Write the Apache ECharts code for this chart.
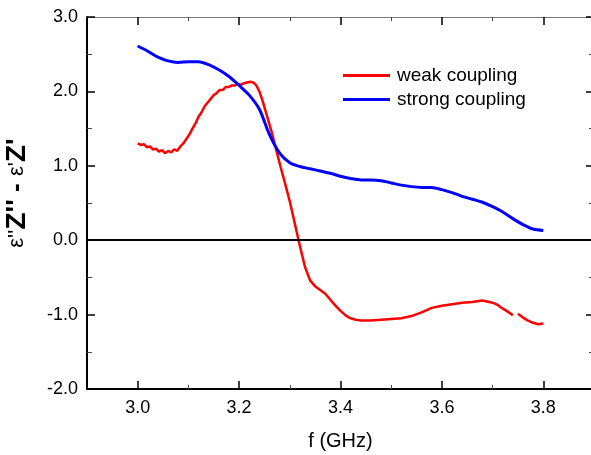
<!DOCTYPE html>
<html>
<head>
<meta charset="utf-8">
<script src="https://cdn.jsdelivr.net/npm/echarts@6/dist/echarts.min.js"></script>
<style>
  html, body { margin: 0; padding: 0; background: #fff; }
  #chart { width: 591px; height: 455px; }
</style>
</head>
<body>
<div id="chart"></div>
<script>
// weak coupling (red)
const weakFreq = [3.000, 3.006, 3.012, 3.018, 3.024, 3.030, 3.036, 3.042, 3.048, 3.054,
  3.060, 3.066, 3.072, 3.078, 3.084, 3.090, 3.096, 3.102, 3.108, 3.114,
  3.120, 3.126, 3.132, 3.138, 3.144, 3.150, 3.156, 3.162, 3.168, 3.174,
  3.180, 3.186, 3.192, 3.198, 3.204, 3.210, 3.216, 3.222, 3.228, 3.234,
  3.240, 3.246, 3.252, 3.258, 3.264, 3.270, 3.276, 3.282, 3.290, 3.300,
  3.310, 3.320, 3.330, 3.340, 3.350, 3.360, 3.370, 3.380, 3.390, 3.400,
  3.410, 3.420, 3.430, 3.440, 3.460, 3.480, 3.500, 3.520, 3.540, 3.560,
  3.580, 3.600, 3.620, 3.640, 3.660, 3.680, 3.700, 3.710, 3.720, 3.730,
  3.740, 3.745, 3.750, 3.760, 3.770, 3.780, 3.790, 3.800];
const weakVal = [1.30, 1.28, 1.29, 1.25, 1.26, 1.22, 1.23, 1.19, 1.21, 1.17,
  1.20, 1.18, 1.22, 1.20, 1.26, 1.30, 1.36, 1.42, 1.50, 1.57,
  1.66, 1.72, 1.80, 1.85, 1.90, 1.95, 1.98, 2.02, 2.02, 2.06,
  2.06, 2.08, 2.08, 2.10, 2.09, 2.11, 2.12, 2.13, 2.12, 2.08,
  2.00, 1.88, 1.74, 1.60, 1.46, 1.30, 1.14, 0.98, 0.78, 0.52,
  0.22, -0.08, -0.36, -0.54, -0.62, -0.67, -0.72, -0.80, -0.88, -0.95,
  -1.01, -1.05, -1.07, -1.08, -1.08, -1.07, -1.06, -1.05, -1.02, -0.97,
  -0.91, -0.88, -0.86, -0.84, -0.83, -0.81, -0.84, -0.87, -0.92, -0.96,
  -1.01, '-', -0.99, -1.04, -1.08, -1.11, -1.13, -1.12];

// strong coupling (blue)
const strongFreq = [3.00, 3.02, 3.04, 3.06, 3.08, 3.10, 3.12, 3.14, 3.16, 3.18,
  3.20, 3.22, 3.24, 3.26, 3.28, 3.30, 3.32, 3.34, 3.36, 3.38,
  3.40, 3.42, 3.44, 3.46, 3.48, 3.50, 3.52, 3.54, 3.56, 3.58,
  3.60, 3.62, 3.64, 3.66, 3.68, 3.70, 3.72, 3.74, 3.76, 3.78, 3.80];
const strongVal = [2.61, 2.54, 2.46, 2.41, 2.39, 2.40, 2.40, 2.36, 2.29, 2.20,
  2.08, 1.95, 1.76, 1.42, 1.17, 1.04, 0.99, 0.96, 0.93, 0.90,
  0.86, 0.83, 0.81, 0.81, 0.80, 0.77, 0.74, 0.72, 0.71, 0.71,
  0.68, 0.64, 0.59, 0.55, 0.51, 0.45, 0.38, 0.29, 0.21, 0.15, 0.13];

const xMajor = [3.0, 3.2, 3.4, 3.6, 3.8];
const xMinor = [3.1, 3.3, 3.5, 3.7];
const yMajor = [-2, -1, 0, 1, 2, 3];

const font = 'Liberation Sans, Arial, sans-serif';
const chart = echarts.init(document.getElementById('chart'));

const zip = (xs, ys) => xs.map((x, i) => [x, ys[i]]);

// x axis: one axis for line + labels + long ticks, one for the short ticks
function xAxisPair(pos, lineColor, lineWidth, withLabels) {
  const common = { type: 'value', min: 2.9, max: 3.9, interval: 0.1, position: pos, splitLine: { show: false } };
  const main = Object.assign({}, common, {
    axisLine: { show: true, onZero: false, lineStyle: { color: lineColor, width: lineWidth } },
    axisTick: { inside: true, length: 8, customValues: xMajor, lineStyle: { color: '#000', width: 1.5 } },
    axisLabel: withLabels
      ? { margin: 10, fontFamily: font, fontSize: 18, color: '#000', customValues: xMajor, formatter: v => v.toFixed(1) }
      : { show: false }
  });
  const minor = Object.assign({}, common, {
    axisLine: { show: false, onZero: false },
    axisTick: { inside: true, length: 4, customValues: xMinor, lineStyle: { color: '#444', width: 1 } },
    axisLabel: { show: false }
  });
  return [main, minor];
}

const bottomAxes = xAxisPair('bottom', '#000', 2, true);
bottomAxes[0].name = 'f (GHz)';
bottomAxes[0].nameLocation = 'middle';
bottomAxes[0].nameGap = 42;
bottomAxes[0].nameTextStyle = { fontFamily: font, fontSize: 20, color: '#000' };
const topAxes = xAxisPair('top', '#777', 1, false);

const baseY = {
  type: 'value',
  min: -2, max: 3, interval: 1,
  splitLine: { show: false },
  minorTick: { show: true, splitNumber: 2, length: 5, lineStyle: { color: '#444', width: 1 } },
  axisTick: { inside: true, length: 8, lineStyle: { color: '#000', width: 1.5 } }
};

chart.setOption({
  animation: false,
  backgroundColor: '#fff',
  grid: { left: 87, top: 17, width: 507, height: 372, outerBoundsMode: 'none', containLabel: false },
  legend: {
    orient: 'vertical',
    left: 338, top: 61,
    itemWidth: 47, itemHeight: 3, itemGap: 5,
    icon: 'rect',
    textStyle: { fontFamily: font, fontSize: 19, color: '#000', padding: [0, 0, 0, 2] },
    data: ['weak coupling', 'strong coupling']
  },
  xAxis: bottomAxes.concat(topAxes),
  yAxis: [
    Object.assign({}, baseY, {
      position: 'left',
      name: "{e|ε''}{z|Z''}{d| - }{e|ε'}{z|Z'}",
      nameLocation: 'middle',
      nameRotate: 90,
      nameGap: 56,
      nameTextStyle: {
        fontFamily: font, color: '#000',
        padding: [0, 0, 0, 20],
        rich: {
          e: { fontFamily: font, fontSize: 22, fontWeight: 'normal', color: '#000' },
          z: { fontFamily: font, fontSize: 28, fontWeight: 'bold', color: '#000' },
          d: { fontFamily: font, fontSize: 26, fontWeight: 'bold', color: '#000' }
        }
      },
      axisLine: { show: true, onZero: false, lineStyle: { color: '#000', width: 2 } },
      axisLabel: {
        margin: 9, fontFamily: font, fontSize: 18, color: '#000',
        customValues: yMajor,
        formatter: v => v.toFixed(1)
      }
    }),
    Object.assign({}, baseY, {
      position: 'right',
      axisLine: { show: false, onZero: false },
      axisLabel: { show: false }
    })
  ],
  series: [
    {
      name: 'weak coupling',
      type: 'line',
      symbol: 'none',
      data: zip(weakFreq, weakVal),
      lineStyle: { color: '#ff0000', width: 2.5 },
      itemStyle: { color: '#ff0000' },
      markLine: {
        silent: true,
        symbol: 'none',
        label: { show: false },
        lineStyle: { color: '#000', width: 2, type: 'solid' },
        data: [{ yAxis: 0 }]
      }
    },
    {
      name: 'strong coupling',
      type: 'line',
      symbol: 'none',
      smooth: 0.3,
      data: zip(strongFreq, strongVal),
      lineStyle: { color: '#0000ff', width: 3 },
      itemStyle: { color: '#0000ff' }
    }
  ]
});
</script>
</body>
</html>
